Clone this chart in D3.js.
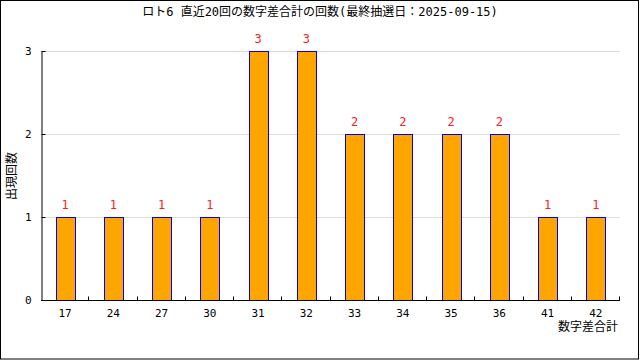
<!DOCTYPE html>
<html>
<head>
<meta charset="utf-8">
<script src="https://cdn.jsdelivr.net/npm/d3@7"></script>
<style>
  body { margin: 0; background: #fff; }
  text { font-family: "DejaVu Sans Mono", "Noto Sans CJK JP", monospace; }
</style>
</head>
<body>
<div id="chart"></div>
<script>
// sum-of-digits-difference categories and how often each came up
var categories = ["17", "24", "27", "30", "31", "32", "33", "34", "35", "36", "41", "42"];
var counts = [1, 1, 1, 1, 3, 3, 2, 2, 2, 2, 1, 1];
var yTicks = [0, 1, 2, 3];

var width = 640, height = 360;
var margin = {top: 51, right: 20, bottom: 60, left: 41};

var svg = d3.select("#chart")
    .append("svg")
    .attr("width", width)
    .attr("height", height);

// frame round the whole picture
svg.append("rect")
    .attr("x", 0.5).attr("y", 0.5)
    .attr("width", 638).attr("height", 358.5)
    .attr("fill", "none")
    .attr("stroke", "#000");

var x = d3.scaleBand()
    .domain(categories)
    .range([margin.left, width - margin.right]);

var y = d3.scaleLinear()
    .domain([0, 3])
    .range([height - margin.bottom, margin.top]);

// grid
svg.selectAll(".grid")
    .data(yTicks.filter(function(d) { return d > 0; }))
    .enter()
    .append("line")
    .attr("x1", margin.left)
    .attr("x2", width - margin.right)
    .attr("y1", function(d) { return Math.round(y(d)) + 0.5; })
    .attr("y2", function(d) { return Math.round(y(d)) + 0.5; })
    .attr("stroke", "#dcdcdc");

var barW = 19;
svg.selectAll(".bar")
    .data(counts)
    .enter()
    .append("rect")
    .attr("class", "bar")
    .attr("x", function(d, i) { return Math.round(x(categories[i]) + x.bandwidth() / 2 - barW / 2) + 0.5; })
    .attr("y", function(d) { return Math.round(y(d)) + 0.5; })
    .attr("width", barW)
    .attr("height", function(d) { return y(0) - y(d); })
    .attr("fill", "orange")
    .attr("stroke", "blue");

svg.selectAll(".val")
    .data(counts)
    .enter()
    .append("text")
    .attr("x", function(d, i) { return x(categories[i]) + x.bandwidth() / 2; })
    .attr("y", function(d) { return y(d) - 8; })
    .attr("text-anchor", "middle")
    .attr("font-size", 12)
    .attr("fill", "#ff2020")
    .text(function(d) { return d; });

// y axis
var yAxis = svg.append("g")
    .attr("transform", "translate(" + (margin.left + 0.5) + ",0)")
    .call(d3.axisLeft(y).tickValues(yTicks).tickFormat(d3.format("d")).tickSizeInner(-4).tickSizeOuter(0).tickPadding(10));
yAxis.selectAll("text").attr("font-size", 11).attr("fill", "#000");
yAxis.selectAll("line, path").attr("stroke", "#000");

// x axis, ticks sit between the categories and point up
var bounds = categories.slice(1).map(function(c) { return x(c); });
var xAxis = svg.append("g")
    .attr("transform", "translate(0," + (y(0) + 0.5) + ")");
xAxis.append("line")
    .attr("x1", margin.left).attr("x2", width - margin.right)
    .attr("stroke", "#000");
xAxis.selectAll(".tk")
    .data(bounds.concat([width - margin.right]))
    .enter()
    .append("line")
    .attr("x1", function(d) { return Math.round(d) - 0.5; })
    .attr("x2", function(d) { return Math.round(d) - 0.5; })
    .attr("y1", 0).attr("y2", -4)
    .attr("stroke", "#000");
xAxis.selectAll(".lbl")
    .data(categories)
    .enter()
    .append("text")
    .attr("x", function(d) { return x(d) + x.bandwidth() / 2; })
    .attr("y", 16)
    .attr("text-anchor", "middle")
    .attr("font-size", 11)
    .text(function(d) { return d; });

// titles
svg.append("text")
    .attr("x", 320).attr("y", 16)
    .attr("text-anchor", "middle")
    .attr("font-size", 12)
    .text("ロト6 直近20回の数字差合計の回数(最終抽選日：2025-09-15)");

svg.append("text")
    .attr("transform", "translate(16,176) rotate(-90)")
    .attr("text-anchor", "middle")
    .attr("font-size", 12)
    .text("出現回数");

svg.append("text")
    .attr("x", 618).attr("y", 331)
    .attr("text-anchor", "end")
    .attr("font-size", 12)
    .text("数字差合計");
</script>
</body>
</html>
